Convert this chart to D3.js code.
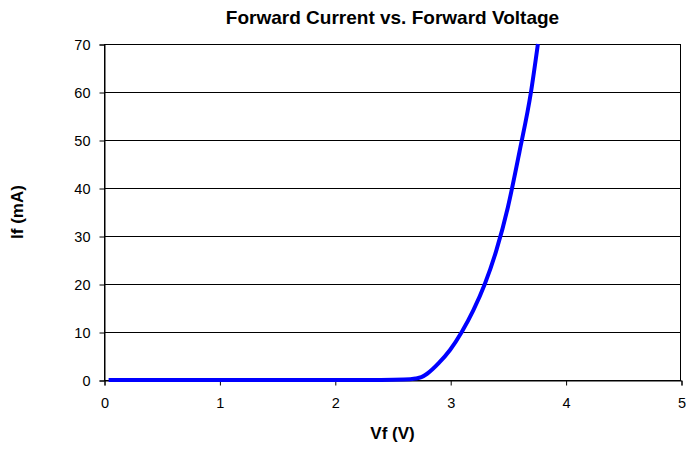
<!DOCTYPE html>
<html><head><meta charset="utf-8">
<script src="https://cdn.jsdelivr.net/npm/d3@7"></script>
<style>body{margin:0;background:#fff}svg{display:block;font-family:"Liberation Sans",Arial,sans-serif}</style>
</head><body>
<svg id="c" width="686" height="449"></svg>
<script>
const title = "Forward Current vs. Forward Voltage";
const xLabel = "Vf (V)";
const yLabel = "If (mA)";
const xTicks = [0,1,2,3,4,5];
const yTicks = [0,10,20,30,40,50,60,70];
const vf = [0.04,0.5,1.0,1.5,2.0,2.4,2.6,2.7,2.75,2.8,2.9,3.0,3.1,3.2,3.3,3.4,3.5,3.6,3.7,3.76];
const ifmA = [0,0,0,0,0,0.02,0.08,0.3,0.6,1.3,3.5,6.3,10,14.5,20,27,36,47.5,60,70];

const svg = d3.select("#c");
const m = {l:104, t:44, r:681, b:380};
const x = d3.scaleLinear().domain([0,5]).range([m.l, m.r]);
const y = d3.scaleLinear().domain([0,70]).range([m.b, m.t]);

// gridlines
svg.append("g").selectAll("line").data(yTicks).join("line")
  .attr("x1", m.l).attr("x2", m.r)
  .attr("y1", d=>y(d)+0.5).attr("y2", d=>y(d)+0.5)
  .attr("stroke","#000").attr("stroke-width",1);

// frame
svg.append("rect").attr("x", m.l+0.5).attr("y", m.t+0.5)
  .attr("width", m.r-m.l-1).attr("height", m.b-m.t)
  .attr("fill","none").attr("stroke","#000").attr("stroke-width",1);

// axes
const xa = svg.append("g").attr("transform",`translate(0.5,${m.b+0.5})`)
  .call(d3.axisBottom(x).tickValues(xTicks).tickSize(5).tickPadding(12).tickFormat(d3.format("d")));
const ya = svg.append("g").attr("transform",`translate(${m.l+0.5},0.5)`)
  .call(d3.axisLeft(y).tickValues(yTicks).tickSize(5).tickPadding(9).tickFormat(d3.format("d")));
[xa,ya].forEach(a=>{
  a.select(".domain").attr("stroke","#000");
  a.selectAll(".tick line").attr("stroke","#000");
  a.selectAll("text").attr("font-size",14.5).attr("fill","#000")
   .attr("font-family","'Liberation Sans',Arial,sans-serif");
});

// curve
const line = d3.line().x((d,i)=>x(vf[i])).y((d,i)=>y(ifmA[i])).curve(d3.curveMonotoneX);
svg.append("path").datum(vf).attr("d", line)
  .attr("fill","none").attr("stroke","#0000ff").attr("stroke-width",4)
  .attr("stroke-linejoin","round");

// titles
svg.append("text").attr("x",(m.l+m.r)/2).attr("y",24).attr("text-anchor","middle")
  .attr("font-size",19).attr("font-weight","bold").text(title);
svg.append("text").attr("x",(m.l+m.r)/2).attr("y",439).attr("text-anchor","middle")
  .attr("font-size",17).attr("font-weight","bold").text(xLabel);
svg.append("text").attr("transform",`translate(23,${(m.t+m.b)/2}) rotate(-90)`)
  .attr("text-anchor","middle").attr("font-size",17).attr("font-weight","bold").text(yLabel);
</script>
</body></html>
